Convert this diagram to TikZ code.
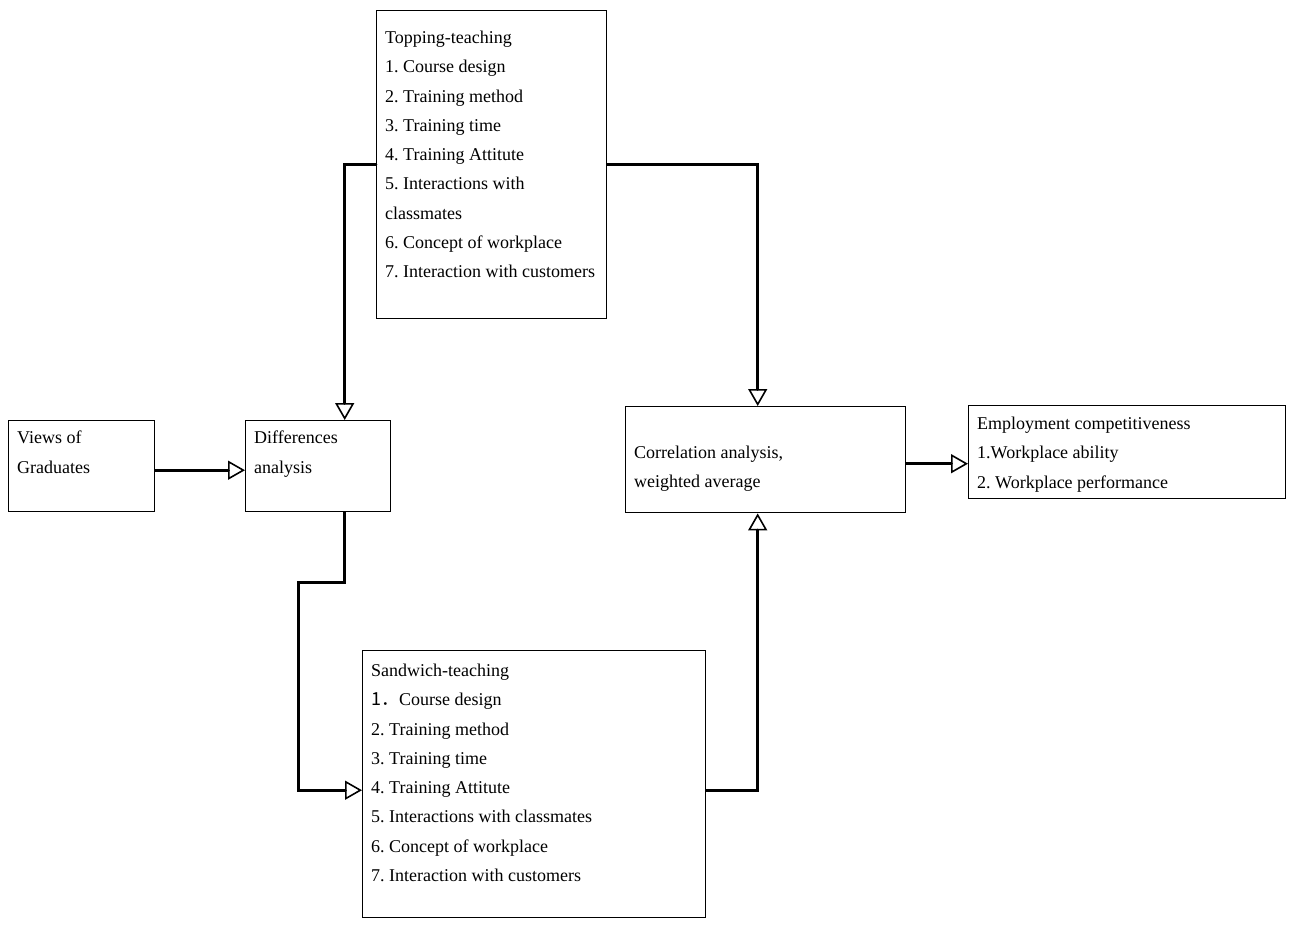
\documentclass[tikz,border=0pt]{standalone}
\usepackage{fontspec}
\setmainfont{Liberation Serif}
\newfontfamily\cjk{Noto Sans CJK SC}
\usetikzlibrary{arrows.meta}
\frenchspacing
\begin{document}
\begin{tikzpicture}[x=1pt,y=-1pt,
  box/.style={draw,line width=1.4pt,inner sep=0pt,anchor=north west},
  txt/.style={anchor=north west,inner sep=0pt,align=left,font=\fontsize{18}{29.25}\selectfont\frenchspacing},
  conn/.style={line width=2.8pt,line cap=round,line join=miter,
    -{Triangle[open,length=17pt,width=19pt,line width=1.6pt]}}]
\useasboundingbox (0,0) rectangle (1293,924);
% boxes
\node[box,minimum width=230pt,minimum height=308pt] (top) at (376,10) {};
\node[box,minimum width=146pt,minimum height=91pt] (views) at (8,420) {};
\node[box,minimum width=145pt,minimum height=91pt] (diff) at (245,420) {};
\node[box,minimum width=280pt,minimum height=106pt] (corr) at (625,406) {};
\node[box,minimum width=317pt,minimum height=93pt] (emp) at (968,405) {};
\node[box,minimum width=343pt,minimum height=267pt] (sand) at (362,650) {};
% texts
\node[txt] (toptxt) at (385,31) {Topping-teaching\\1. Course design\\2. Training method\\3. Training time\\4. Training Attitute\\5. Interactions with\\classmates\\6. Concept of workplace\\7. Interaction with customers};
\node[txt] (viewstxt) at (17,431) {Views of\\Graduates};
\node[txt] (difftxt) at (254,431) {Differences\\analysis};
\node[txt] (corrtxt) at (634,446) {Correlation analysis,\\weighted average};
\node[txt] (emptxt) at (977,417) {Employment competitiveness\\1.Workplace ability\\2. Workplace performance};
\node[txt] (sandtxt) at (371,664) {Sandwich-teaching\\{\cjk 1．}Course design\\2. Training method\\3. Training time\\4. Training Attitute\\5. Interactions with classmates\\6. Concept of workplace\\7. Interaction with customers};
% connectors
\draw[conn] (top.west) -| ([xshift=26.5pt]diff.north);
\draw[conn] (top.east) -| ([xshift=-8pt]corr.north);
\coordinate (c3) at ([yshift=-4pt]views.east);
\draw[conn] (c3) -- (c3 -| diff.west);
\draw[conn] ([xshift=26.5pt]diff.south) -- ++(0,70) -- ++(-46,0) |- ([yshift=-6pt]sand.west);
\draw[conn] ([yshift=-6pt]sand.east) -| ([xshift=-8pt]corr.south);
\coordinate (c6) at ([yshift=-4pt]corr.east);
\draw[conn] (c6) -- (c6 -| emp.west);
\end{tikzpicture}
\end{document}
